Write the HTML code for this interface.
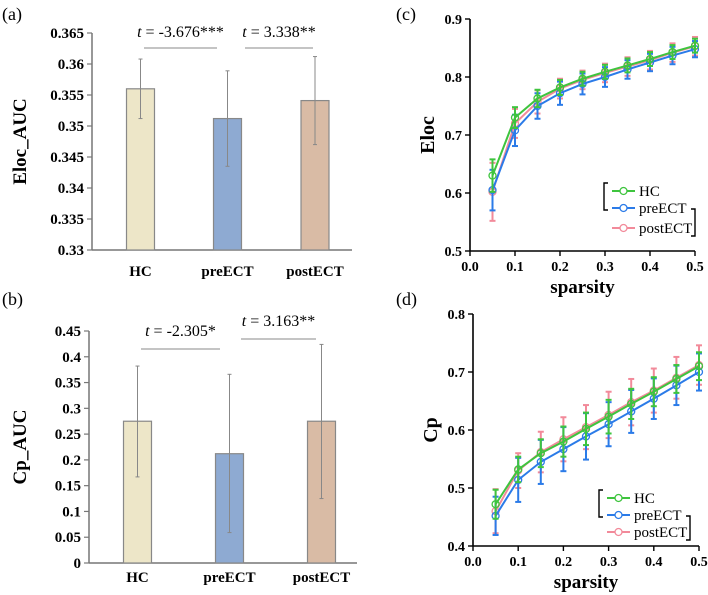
<!DOCTYPE html>
<html><head><meta charset="utf-8">
<style>
body{margin:0;background:#fff}
svg{display:block}
svg text{font-family:"Liberation Serif","Times New Roman",serif}
</style></head>
<body>
<svg id="chart" width="708" height="595" viewBox="0 0 708 595"></svg>
<script>
// Panel a data
const barCats = ["HC","preECT","postECT"];
const elocAucMean = [0.356,0.3512,0.3541];
const elocAucUp = [0.3608,0.3589,0.3612];
const elocAucLo = [0.3512,0.3435,0.347];
const elocTicks = ["0.33","0.335","0.34","0.345","0.35","0.355","0.36","0.365"];
// Panel b data
const cpAucMean = [0.275,0.212,0.275];
const cpAucUp = [0.382,0.366,0.424];
const cpAucLo = [0.167,0.059,0.125];
const cpAucTicks = ["0","0.05","0.1","0.15","0.2","0.25","0.3","0.35","0.4","0.45"];
// Panel c/d data
const sparsity = [0.05,0.1,0.15,0.2,0.25,0.3,0.35,0.4,0.45,0.5];
const xTicks = ["0.0","0.1","0.2","0.3","0.4","0.5"];
const elocHC = [0.63,0.73,0.763,0.782,0.797,0.809,0.82,0.831,0.843,0.854];
const elocPre = [0.605,0.708,0.75,0.772,0.788,0.80,0.813,0.825,0.837,0.848];
const elocPost = [0.602,0.72,0.757,0.780,0.795,0.807,0.818,0.829,0.842,0.853];
const elocHCErr = [0.028,0.018,0.015,0.013,0.012,0.012,0.012,0.012,0.012,0.012];
const elocPreErr = [0.035,0.027,0.022,0.02,0.018,0.017,0.016,0.015,0.015,0.014];
const elocPostErr = [0.05,0.025,0.02,0.017,0.016,0.016,0.016,0.016,0.016,0.016];
const elocYTicks = ["0.5","0.6","0.7","0.8","0.9"];
const cpHC = [0.472,0.532,0.56,0.58,0.602,0.623,0.645,0.666,0.688,0.71];
const cpPre = [0.452,0.514,0.545,0.567,0.589,0.61,0.632,0.654,0.677,0.70];
const cpPost = [0.46,0.53,0.562,0.584,0.605,0.626,0.648,0.668,0.69,0.712];
const cpHCErr = [0.025,0.022,0.024,0.026,0.028,0.029,0.026,0.025,0.024,0.024];
const cpPreErr = [0.033,0.038,0.038,0.038,0.04,0.038,0.037,0.035,0.034,0.032];
const cpPostErr = [0.038,0.03,0.035,0.038,0.038,0.04,0.04,0.038,0.036,0.034];
const cpYTicks = ["0.4","0.5","0.6","0.7","0.8"];

const svg=document.getElementById('chart');
const NS="http://www.w3.org/2000/svg";
const FF='"Liberation Serif", serif';
function mk(tag,attrs,parent,text){const e=document.createElementNS(NS,tag);for(const k in attrs)e.setAttribute(k,attrs[k]);if(tag==='text')e.setAttribute('font-family',FF);if(text!==undefined)e.textContent=text;(parent||svg).appendChild(e);return e;}

function label(x,y,t,name){
  const e=mk('text',{x:x,y:y,'font-size':18},svg,t);
  
  
  return e;
}
label(2,20,"(a)","panel-label-a");
label(2,305,"(b)","panel-label-b");
label(396,20,"(c)","panel-label-c");
label(396,305,"(d)","panel-label-d");

const barColors=["#ede6c8","#8eaad2","#d9bba5"];

function barPanel(o){
  const g=mk('g',{});
  
  
  const y=v=>o.y0+(v-o.vmin)/(o.vmax-o.vmin)*(o.y1-o.y0);
  mk('line',{x1:o.ax,y1:o.y1,x2:o.ax,y2:o.y0,stroke:'#777','stroke-width':1.5},g);
  mk('line',{x1:o.ax,y1:o.y0,x2:o.xend,y2:o.y0,stroke:'#777','stroke-width':1.5},g);
  o.ticks.forEach((t,i)=>{
    const v=o.vmin+i*o.step;const yy=y(v);
    mk('line',{x1:o.ax-5,y1:yy,x2:o.ax,y2:yy,stroke:'#777','stroke-width':1.2},g);
    const tx=mk('text',{x:o.ax-8,y:yy+5,'text-anchor':'end','font-size':15,'font-weight':'bold'},g,t);
    
    
  });
  barCats.forEach((c,i)=>{
    const cx=o.cx[i];
    const r=mk('rect',{x:cx-14,y:y(o.mean[i]),width:28,height:o.y0-y(o.mean[i]),fill:barColors[i],stroke:'#888','stroke-width':1.2},g);
    
    
    const eb=mk('g',{stroke:'#888','stroke-width':1},g);
    
    
    mk('line',{x1:cx,y1:y(o.up[i]),x2:cx,y2:y(o.lo[i])},eb);
    mk('line',{x1:cx-2,y1:y(o.up[i]),x2:cx+2,y2:y(o.up[i])},eb);
    mk('line',{x1:cx-2,y1:y(o.lo[i]),x2:cx+2,y2:y(o.lo[i])},eb);
    const tl=mk('text',{x:cx,y:o.labY,'text-anchor':'middle','font-size':15,'font-weight':'bold'},g,c);
    
    
  });
  const yt=mk('text',{x:0,y:0,'font-size':19,'font-weight':'bold','text-anchor':'middle',transform:`translate(${o.titleX},${(o.y0+o.y1)/2}) rotate(-90)`},g,o.title);
  
  
  o.sig.forEach((s,k)=>{
    mk('line',{x1:s[0],y1:s[2],x2:s[1],y2:s[2],stroke:'#888','stroke-width':1},g);
    const t=mk('text',{x:(s[0]+s[1])/2,y:s[3],'text-anchor':'middle','font-size':16},g);
    
    
    mk('tspan',{'font-style':'italic'},t,'t');
    mk('tspan',{},t,' = '+s[4]);
  });
}
barPanel({name:'eloc-auc-bar-chart',ax:92,xend:352,y0:250,y1:33,vmin:0.33,vmax:0.365,step:0.005,ticks:elocTicks,
  cx:[140.5,227.5,315],mean:elocAucMean,up:elocAucUp,lo:elocAucLo,labY:276,title:'Eloc_AUC',titleX:26,
  sig:[[144,217,48,37,'-3.676***'],[245,313,48,37,'3.338**']]});
barPanel({name:'cp-auc-bar-chart',ax:89,xend:357,y0:563,y1:331,vmin:0,vmax:0.45,step:0.05,ticks:cpAucTicks,
  cx:[137.5,229.5,321.5],mean:cpAucMean,up:cpAucUp,lo:cpAucLo,labY:582,title:'Cp_AUC',titleX:26,
  sig:[[141,220,349,336,'-2.305*'],[241,316,339,326,'3.163**']]});

const lineColors={HC:'#3ec43e',pre:'#2b7be8',post:'#f28a9a'};
function linePanel(o){
  const g=mk('g',{});
  
  
  const X=v=>o.x0+v/0.5*(o.x1-o.x0);
  const Y=v=>o.y0+(v-o.vmin)/(o.vmax-o.vmin)*(o.y1-o.y0);
  mk('line',{x1:o.x0,y1:o.y0,x2:o.x0,y2:o.y1,stroke:'#000','stroke-width':1.6},g);
  mk('line',{x1:o.x0,y1:o.y0,x2:o.x1,y2:o.y0,stroke:'#000','stroke-width':1.6},g);
  o.yTicks.forEach(t=>{
    const yy=Y(parseFloat(t));
    mk('line',{x1:o.x0-5,y1:yy,x2:o.x0,y2:yy,stroke:'#000','stroke-width':1.4},g);
    const tx=mk('text',{x:o.x0-8,y:yy+5,'text-anchor':'end','font-size':14,'font-weight':'bold'},g,t);
    
    
  });
  xTicks.forEach(t=>{
    const xx=X(parseFloat(t));
    mk('line',{x1:xx,y1:o.y0,x2:xx,y2:o.y0+5,stroke:'#000','stroke-width':1.4},g);
    const tx=mk('text',{x:xx,y:o.y0+20,'text-anchor':'middle','font-size':14,'font-weight':'bold'},g,t);
    
    
  });
  const xt=mk('text',{x:(o.x0+o.x1)/2,y:o.y0+42,'text-anchor':'middle','font-size':19,'font-weight':'bold'},g,'sparsity');
  
  
  const yt=mk('text',{x:0,y:0,'font-size':20,'font-weight':'bold','text-anchor':'middle',transform:`translate(${o.x0-36},${(o.y0+o.y1)/2}) rotate(-90)`},g,o.title);
  
  
  const drawOrder=[o.series[2],o.series[1],o.series[0]];
  drawOrder.forEach(s=>{
    const sg=mk('g',{},g);
    
    
    const c=lineColors[s.key];
    s.err.forEach((e,i)=>{
      const xx=X(sparsity[i]);const a=Y(s.vals[i]+e),b=Y(s.vals[i]-e);
      mk('line',{x1:xx,y1:a,x2:xx,y2:b,stroke:c,'stroke-width':2},sg);
      mk('line',{x1:xx-3,y1:a,x2:xx+3,y2:a,stroke:c,'stroke-width':2},sg);
      mk('line',{x1:xx-3,y1:b,x2:xx+3,y2:b,stroke:c,'stroke-width':2},sg);
    });
    mk('polyline',{points:s.vals.map((v,i)=>X(sparsity[i])+','+Y(v)).join(' '),fill:'none',stroke:c,'stroke-width':2},sg);
    s.vals.forEach((v,i)=>{
      const p=mk('circle',{cx:X(sparsity[i]),cy:Y(v),r:3.5,fill:'none',stroke:c,'stroke-width':1.3},sg);
      
      
    });
  });
  const lg=mk('g',{},g);
  
  
  o.series.forEach((s,k)=>{
    const yy=o.ly[k];
    const e=mk('g',{},lg);
    
    
    mk('line',{x1:o.lx,y1:yy,x2:o.lx+23,y2:yy,stroke:lineColors[s.key],'stroke-width':2},e);
    mk('circle',{cx:o.lx+11.5,cy:yy,r:3.5,fill:'#fff',stroke:lineColors[s.key],'stroke-width':1.3},e);
    mk('text',{x:o.lx+27,y:yy+5,'font-size':15},e,s.label);
  });
  const bx=o.lx-8;
  mk('polyline',{points:`${bx+4},${o.ly[0]-8} ${bx},${o.ly[0]-8} ${bx},${o.ly[1]+2} ${bx+4},${o.ly[1]+2}`,fill:'none',stroke:'#000','stroke-width':1.4},lg);
  const bx2=o.lx+o.bw;
  mk('polyline',{points:`${bx2-4},${o.ly[1]+1} ${bx2},${o.ly[1]+1} ${bx2},${o.ly[2]+8} ${bx2-4},${o.ly[2]+8}`,fill:'none',stroke:'#000','stroke-width':1.4},lg);
}
linePanel({name:'eloc-line-chart',x0:470,x1:695,y0:251,y1:19,vmin:0.5,vmax:0.9,yTicks:elocYTicks,title:'Eloc',
  lx:612,ly:[191,208,228],bw:83,
  series:[{key:'HC',label:'HC',vals:elocHC,err:elocHCErr},{key:'pre',label:'preECT',vals:elocPre,err:elocPreErr},{key:'post',label:'postECT',vals:elocPost,err:elocPostErr}]});
linePanel({name:'cp-line-chart',x0:473,x1:699,y0:546,y1:314,vmin:0.4,vmax:0.8,yTicks:cpYTicks,title:'Cp',
  lx:607,ly:[498,515,532],bw:83,
  series:[{key:'HC',label:'HC',vals:cpHC,err:cpHCErr},{key:'pre',label:'preECT',vals:cpPre,err:cpPreErr},{key:'post',label:'postECT',vals:cpPost,err:cpPostErr}]});
</script>
</body></html>
